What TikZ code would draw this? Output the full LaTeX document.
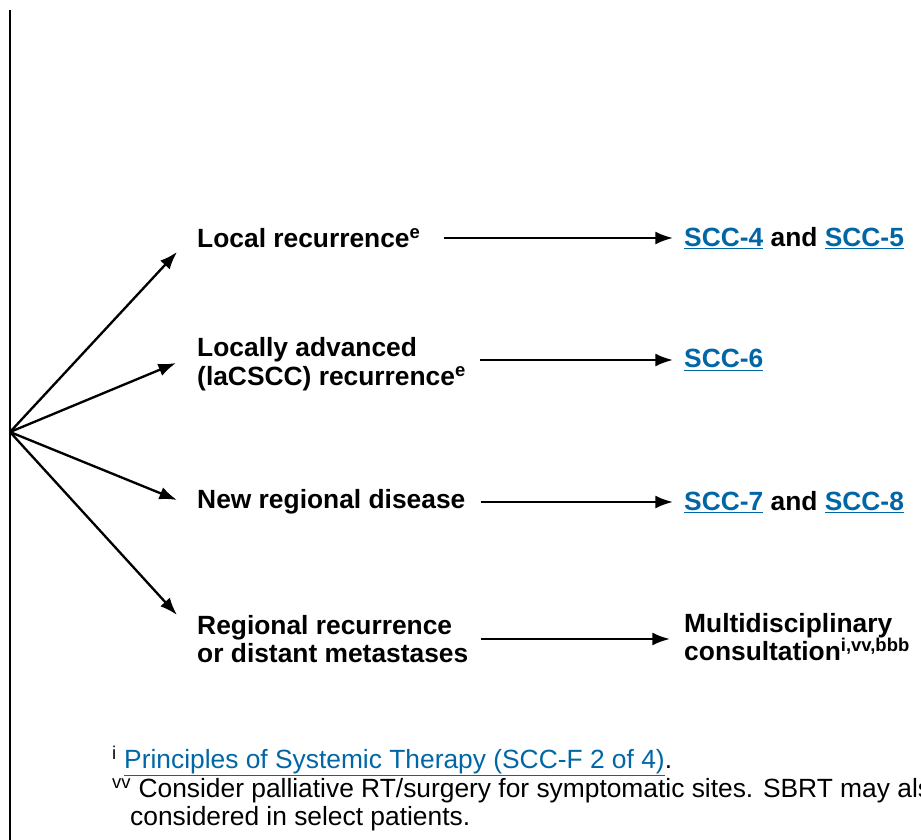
\documentclass[tikz,border=0pt]{standalone}
\usepackage{fontspec}
\setmainfont{Liberation Sans}
\usetikzlibrary{arrows.meta,calc,positioning}
\definecolor{linkblue}{RGB}{0,102,166}
\newcommand{\lnk}[1]{\textcolor{linkblue}{\underline{#1}}}
\tikzstyle{ptr}    = [draw, line width=2pt, -{Latex[length=15pt,width=11pt]}]
\tikzstyle{stage}  = [anchor=west, inner sep=0pt, align=left, font=\bfseries\fontsize{22.5}{24.5}\selectfont]
\tikzstyle{note}   = [anchor=base west, inner sep=0pt, font=\fontsize{22.5}{23.6}\selectfont]

\begin{document}
\begin{tikzpicture}[x=0.03cm, y=-0.03cm]

    \useasboundingbox (0,0) rectangle (921,840);
    \clip (0,0) rectangle (921,840);

    % left bar and fan
    \draw[line width=2.4pt] (10,10) -- (10,845);
    \coordinate (root) at (10,432);

    \node[stage] (loc)      at (197,238) {Local recurrence\textsuperscript{e}};
    \node[stage] (lacscc)   at (197,364) {Locally advanced\\(laCSCC) recurrence\textsuperscript{e}};
    \node[stage] (regional) at (197,502) {New regional disease};
    \node[stage] (distant)  at (197,639) {Regional recurrence\\or distant metastases};

    \node[stage] (scc45)  at (684,238) {\lnk{SCC-4} and \lnk{SCC-5}};
    \node[stage] (scc6)   at (684,360) {\lnk{SCC-6}};
    \node[stage] (scc78)  at (684,502) {\lnk{SCC-7} and \lnk{SCC-8}};
    \node[stage] (consult) at (684,637) {Multidisciplinary\\consultation\textsuperscript{i,vv,bbb}};

    \path[ptr] (root) -- ($(loc.west)+(-20,14)$);
    \path[ptr] (root) -- ($(lacscc.west)+(-21,-1)$);
    \path[ptr] (root) -- ($(regional.west)+(-20,-2)$);
    \path[ptr] (root) -- ($(distant.west)+(-20,-24)$);

    \draw[ptr, shorten <=0.69cm, shorten >=0.33cm] (loc)      -- (scc45);
    \draw[ptr, shorten <=0.42cm, shorten >=0.33cm] (lacscc.east |- scc6.west) -- (scc6);
    \draw[ptr, shorten <=0.45cm, shorten >=0.33cm] (regional) -- (scc78);
    \draw[ptr, shorten <=0.36cm, shorten >=0.42cm] (distant.east)  -- (distant.east -| consult.west);

    % footnotes
    \node[note] (fni)  at (112,768) {\textsuperscript{i} \lnk{Principles of Systemic Therapy (SCC-F 2 of 4)}.};
    \node[note] (fnvv) at (112,797) {\textsuperscript{vv} Consider palliative RT/surgery for symptomatic sites. SBRT may also be};
    \node[note] (fnvv2) at (130,825) {considered in select patients.};

\end{tikzpicture}
\end{document}
